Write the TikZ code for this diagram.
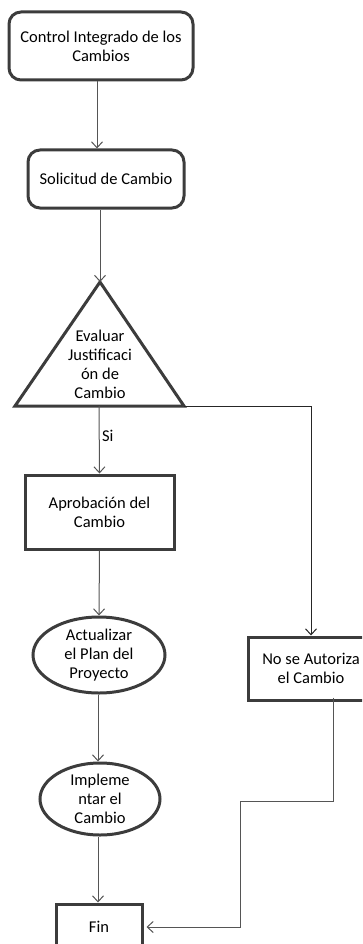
\documentclass[tikz,border=0pt]{standalone}
\usepackage{fontspec}
\setmainfont{Carlito}
\usetikzlibrary{arrows.meta,shapes.geometric}
\definecolor{edgegray}{HTML}{3C3C3C}
\definecolor{linegray}{HTML}{555555}
\begin{document}
\begin{tikzpicture}[x=1pt,y=-1pt,
  lbl/.style={align=center, font=\fontsize{16.5}{19}\selectfont, text=black},
  box/.style={lbl, draw=edgegray, line width=3pt, inner sep=0pt},
  rbox/.style={box, rounded corners=12pt},
  oval/.style={box, ellipse},
  arr/.style={draw=linegray, line width=1pt, -{Straight Barb[length=6pt,width=11pt]}},
  link/.style={draw=black!85, line width=1pt}]
\useasboundingbox (0,0) rectangle (362,944);
\clip (0,0) rectangle (362,944);

% process boxes
\node[rbox, minimum width=184pt, minimum height=68pt] (ctrl) at (101,46) {Control Integrado de los\\Cambios};
\node[rbox, minimum width=156pt, minimum height=58pt] (req) at (106,179) {Solicitud de Cambio};

% decision triangle
\draw[edgegray, line width=3pt] (100,282) coordinate (triTop) -- (184,406) coordinate (triR) -- (15,406) coordinate (triL) -- cycle;
\coordinate (triB) at (99,406);
\node[lbl] (eval) at (100,364) {Evaluar\\Justificaci\\ón de\\Cambio};

\node[box, minimum width=149pt, minimum height=74pt] (appr) at (99.5,512) {Aprobación del\\Cambio};
\node[oval, minimum width=132pt, minimum height=76pt] (upd) at (99,655) {Actualizar\\el Plan del\\Proyecto};
\node[oval, minimum width=120pt, minimum height=72pt] (impl) at (100,799) {Impleme\\ntar el\\Cambio};
\node[box, minimum width=86pt, minimum height=46pt] (fin) at (99,927) {Fin};
\node[box, minimum width=126pt, minimum height=63pt] (noauth) at (311,668.5) {No se Autoriza\\el Cambio};

% connectors
\draw[arr] ([xshift=-4pt]ctrl.south) -- ([xshift=-9pt]req.north);
\draw[arr] ([xshift=-6pt]req.south) -- (triTop);
\draw[arr] (triB) -- (appr.north) node[pos=0.45, right=-1pt, lbl] (si) {Si};
\draw[arr] (appr.south) -- (upd.north);
\draw[arr] ([xshift=-1pt]upd.south) -- ([xshift=-2pt]impl.north);
\draw[arr] ([xshift=-2pt]impl.south) -- ([xshift=-1pt]fin.north);
\draw[link, -{Straight Barb[length=6pt,width=11pt]}] (triR) -| (noauth.north);
\draw[arr] ([xshift=22pt, yshift=4pt]noauth.south) -- ++(0,104) -- ++(-93,0) |- ([xshift=3pt]fin.east);
\end{tikzpicture}
\end{document}
